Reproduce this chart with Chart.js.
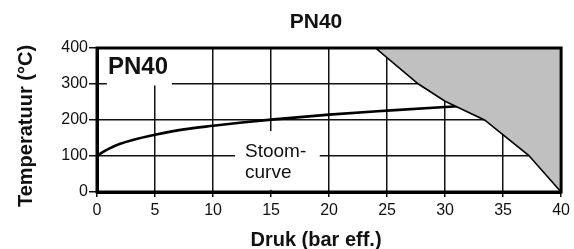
<!DOCTYPE html>
<html lang="nl">
<head>
    <meta charset="UTF-8">
    <title>PN40 - Druk / Temperatuur</title>
    <script src="https://cdn.jsdelivr.net/npm/chart.js"></script>
    <style>
        body {
            margin: 0;
            background: #fff;
        }
        #wrap {
            width: 574px;
            height: 249px;
        }
    </style>
</head>
<body>
    <div id="wrap">
        <canvas id="pnChart" width="574" height="249"></canvas>
    </div>

    <script>
        // Stoomcurve (verzadigde stoom), druk in bar eff. -> temperatuur °C
        const steamPressure = [0, 0.5, 1, 2, 3, 5, 7.5, 10, 12.5, 15, 20, 25, 30, 31.1];
        const steamTemp = [100, 111, 120, 134, 144, 159, 174, 184, 193, 201, 215, 226, 236, 238];

        // Grens van het toelaatbare gebied (grijs = niet toegestaan)
        const limitPressure = [24, 27.7, 30, 33.4, 37.2, 40];
        const limitTemp = [400, 300, 252, 200, 102, 0];

        const xTicks = [0, 5, 10, 15, 20, 25, 30, 35, 40];
        const yTicks = [0, 100, 200, 300, 400];

        const chartTitle = 'PN40';
        const xTitle = 'Druk (bar eff.)';
        const yTitle = 'Temperatuur (°C)';
        const plotLabel = 'PN40';
        const steamLabel = ['Stoom-', 'curve'];

        const FONT = "'Liberation Sans', Arial, sans-serif";
        const INK = '#111';

        // witte vlakken achter de teksten in de grafiek (in data-eenheden)
        const maskBoxes = [
            { x0: 0.85, x1: 6.45, y0: 296, y1: 400 },
            { x0: 11.9, x1: 19.2, y0: 6, y1: 169 }
        ];

        const toPoints = (xs, ys) => xs.map((x, i) => ({ x: x, y: ys[i] }));

        const textPlugin = {
            id: 'textPlugin',
            beforeDatasetsDraw(chart) {
                const ctx = chart.ctx;
                const sx = chart.scales.x, sy = chart.scales.y;
                ctx.save();
                ctx.fillStyle = '#fff';
                maskBoxes.forEach(b => {
                    const l = sx.getPixelForValue(b.x0), r = sx.getPixelForValue(b.x1);
                    const t = sy.getPixelForValue(b.y1), bt = sy.getPixelForValue(b.y0);
                    ctx.fillRect(l, t, r - l, bt - t);
                });
                ctx.restore();
            },
            afterDatasetsDraw(chart) {
                const ctx = chart.ctx;
                const a = chart.chartArea;
                ctx.save();
                // kader rond het plotgebied
                ctx.strokeStyle = '#000';
                ctx.lineWidth = 3;
                ctx.strokeRect(a.left, a.top, a.right - a.left, a.bottom - a.top);

                ctx.fillStyle = INK;
                ctx.textAlign = 'center';
                ctx.textBaseline = 'alphabetic';
                ctx.font = 'bold 21px ' + FONT;
                ctx.fillText(chartTitle, 316, 28);
                ctx.font = 'bold 20px ' + FONT;
                ctx.fillText(xTitle, 316, 246);

                ctx.save();
                ctx.translate(31.5, 126);
                ctx.rotate(-Math.PI / 2);
                ctx.fillText(yTitle, 0, 0);
                ctx.restore();

                ctx.textAlign = 'left';
                ctx.font = 'bold 24px ' + FONT;
                ctx.fillText(plotLabel, 108, 74);
                ctx.font = '19px ' + FONT;
                ctx.fillText(steamLabel[0], 245, 157);
                ctx.fillText(steamLabel[1], 245, 178);
                ctx.restore();
            }
        };

        new Chart(document.getElementById('pnChart'), {
            type: 'line',
            data: {
                datasets: [
                    {
                        label: 'Grens',
                        data: toPoints(limitPressure, limitTemp),
                        borderColor: '#000',
                        borderWidth: 1.6,
                        backgroundColor: '#c0c0c0',
                        fill: 'end',
                        pointRadius: 0,
                        tension: 0
                    },
                    {
                        label: 'Stoomcurve',
                        data: toPoints(steamPressure, steamTemp),
                        borderColor: '#000',
                        borderWidth: 2.6,
                        fill: false,
                        pointRadius: 0,
                        cubicInterpolationMode: 'monotone'
                    }
                ]
            },
            options: {
                responsive: false,
                animation: false,
                layout: { padding: { top: 48, right: 5, left: 0, bottom: 0 } },
                plugins: {
                    legend: { display: false },
                    title: { display: false },
                    tooltip: { enabled: false }
                },
                scales: {
                    x: {
                        type: 'linear',
                        min: 0,
                        max: 40,
                        afterBuildTicks: s => { s.ticks = xTicks.map(v => ({ value: v })); },
                        afterFit: s => { s.height = 57; },
                        grid: { color: INK, lineWidth: 1.5, tickLength: 5, tickWidth: 1.5 },
                        border: { color: '#000', width: 3 },
                        ticks: {
                            color: INK,
                            padding: 4,
                            maxRotation: 0,
                            font: { family: FONT, size: 16 }
                        }
                    },
                    y: {
                        min: 0,
                        max: 400,
                        afterBuildTicks: s => { s.ticks = yTicks.map(v => ({ value: v })); },
                        afterFit: s => { s.width = 97; },
                        grid: { color: INK, lineWidth: 1.5, tickLength: 8, tickWidth: 1.5 },
                        border: { color: '#000', width: 3 },
                        ticks: {
                            color: INK,
                            padding: 1,
                            font: { family: FONT, size: 16 }
                        }
                    }
                }
            },
            plugins: [textPlugin]
        });
    </script>
</body>
</html>
